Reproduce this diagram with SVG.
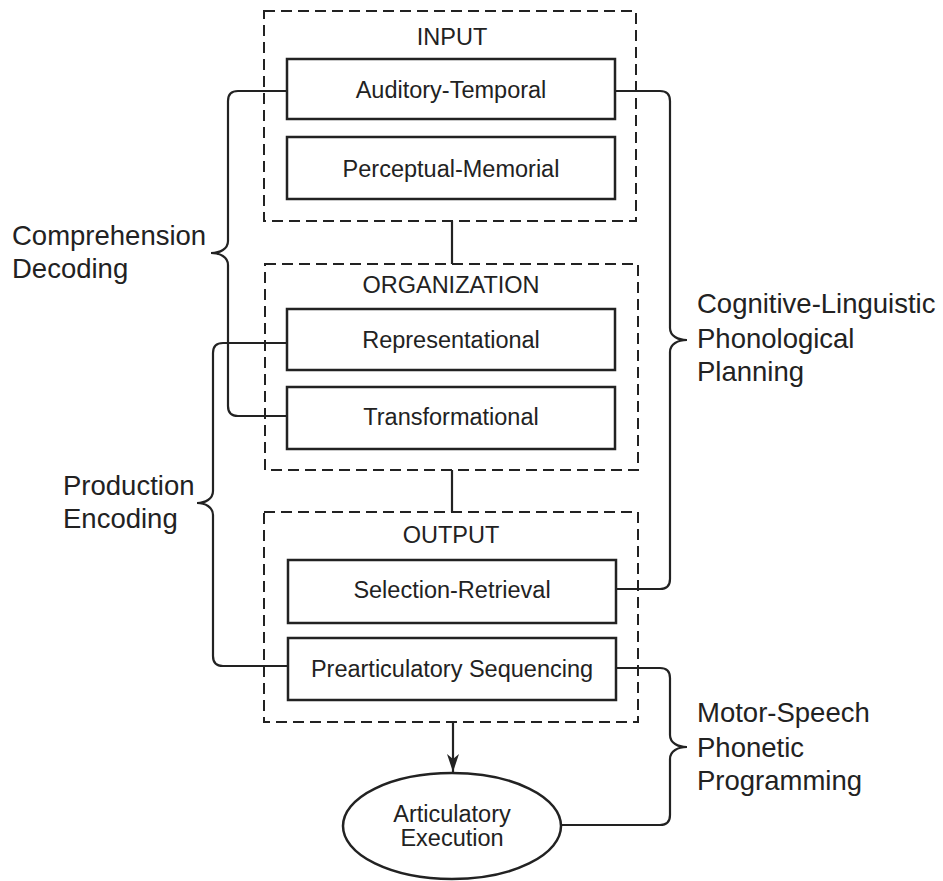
<svg xmlns="http://www.w3.org/2000/svg" width="943" height="881" viewBox="0 0 943 881">
<style>
  .bg { fill: #ffffff; }
  .group { fill: none; stroke: #222; stroke-width: 2; stroke-dasharray: 11 6; }
  .box { fill: #ffffff; stroke: #222; stroke-width: 2.5; }
  .conn { fill: none; stroke: #222; stroke-width: 2.2; }
  .t { font-family: "Liberation Sans", Arial, Helvetica, sans-serif; fill: #222; }
  .boxlbl { font-size: 23.5px; text-anchor: middle; }
  .title { font-size: 23.5px; text-anchor: middle; }
  .side { font-size: 27.5px; }
</style>
<defs>
  <marker id="arrow" viewBox="0 0 18 12" refX="18" refY="6" markerWidth="18" markerHeight="12" markerUnits="userSpaceOnUse" orient="auto">
    <path d="M0,0 L18,6 L0,12 L5,6 Z" fill="#222"/>
  </marker>
</defs>
<rect class="bg" x="0" y="0" width="943" height="881"/>

<g id="input-group">
  <rect class="group" x="264" y="11" width="372" height="210"/>
  <text class="t title" x="452" y="45">INPUT</text>
</g>
<g id="organization-group">
  <rect class="group" x="265" y="264" width="373" height="206"/>
  <text class="t title" x="451" y="293">ORGANIZATION</text>
</g>
<g id="output-group">
  <rect class="group" x="264" y="512" width="374" height="210"/>
  <text class="t title" x="451" y="543">OUTPUT</text>
</g>

<g id="connectors">
  <path class="conn" d="M452,221 V264"/>
  <path class="conn" d="M452,470 V512"/>
  <path class="conn" d="M453,722 V772" marker-end="url(#arrow)"/>
  <!-- Comprehension / Decoding brace -->
  <path class="conn" d="M287,91 H238 Q228,91 228,101 V241 C228,249 220,253 211,253 C220,253 228,257 228,265 V406 Q228,416 238,416 H287"/>
  <!-- Production / Encoding brace -->
  <path class="conn" d="M287,343 H223 Q213,343 213,353 V491 C213,499 205,503 197,503 C205,503 213,507 213,515 V656 Q213,666 223,666 H288"/>
  <!-- Cognitive-Linguistic brace -->
  <path class="conn" d="M615,91 H660 Q670,91 670,101 V328 C670,336 678,340 687,340 C678,340 670,344 670,352 V579 Q670,589 660,589 H616"/>
  <!-- Motor-Speech brace -->
  <path class="conn" d="M616,668 H660 Q670,668 670,678 V735 C670,743 678,747 687,747 C678,747 670,751 670,759 V815 Q670,825 660,825 H561"/>
</g>

<g id="auditory-temporal">
  <rect class="box" x="287" y="59" width="328" height="60"/>
  <text class="t boxlbl" x="451" y="98">Auditory-Temporal</text>
</g>
<g id="perceptual-memorial">
  <rect class="box" x="287" y="137" width="328" height="62"/>
  <text class="t boxlbl" x="451" y="177">Perceptual-Memorial</text>
</g>
<g id="representational">
  <rect class="box" x="287" y="309" width="328" height="61"/>
  <text class="t boxlbl" x="451" y="348">Representational</text>
</g>
<g id="transformational">
  <rect class="box" x="287" y="387" width="328" height="62"/>
  <text class="t boxlbl" x="451" y="425">Transformational</text>
</g>
<g id="selection-retrieval">
  <rect class="box" x="288" y="560" width="328" height="63"/>
  <text class="t boxlbl" x="452" y="598">Selection-Retrieval</text>
</g>
<g id="prearticulatory-sequencing">
  <rect class="box" x="288" y="638" width="328" height="62"/>
  <text class="t boxlbl" x="452" y="677">Prearticulatory Sequencing</text>
</g>
<g id="articulatory-execution">
  <ellipse class="box" cx="452" cy="826" rx="109" ry="53"/>
  <text class="t boxlbl" x="452" y="822">Articulatory</text>
  <text class="t boxlbl" x="452" y="846">Execution</text>
</g>

<g id="label-comprehension">
  <text class="t side" x="12" y="245">Comprehension</text>
  <text class="t side" x="12" y="278">Decoding</text>
</g>
<g id="label-production">
  <text class="t side" x="63" y="495">Production</text>
  <text class="t side" x="63" y="528">Encoding</text>
</g>
<g id="label-cognitive">
  <text class="t side" x="697" y="313">Cognitive-Linguistic</text>
  <text class="t side" x="697" y="348">Phonological</text>
  <text class="t side" x="697" y="381">Planning</text>
</g>
<g id="label-motor">
  <text class="t side" x="697" y="722">Motor-Speech</text>
  <text class="t side" x="697" y="757">Phonetic</text>
  <text class="t side" x="697" y="790">Programming</text>
</g>
</svg>
